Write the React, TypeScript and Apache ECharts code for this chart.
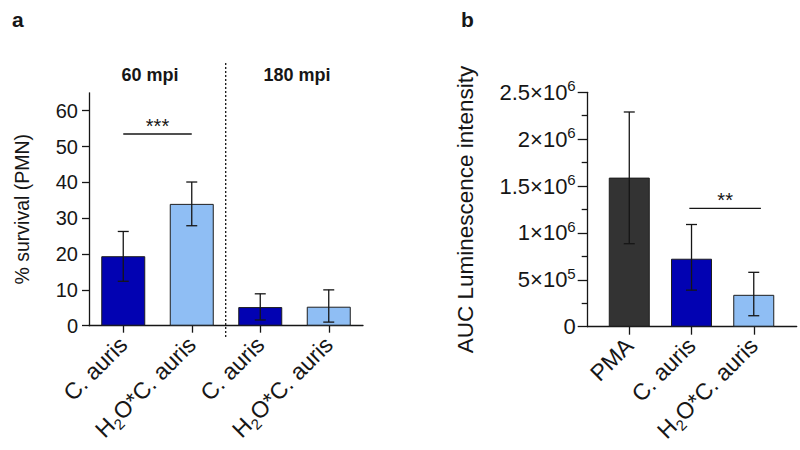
import React, { useEffect, useRef } from 'react';
import * as echarts from 'echarts';

// ---------- Panel a data ----------
const catsA = ['C. auris', 'H2O*C. auris', 'C. auris', 'H2O*C. auris'];
const survivalMean = [19.4, 34.0, 5.2, 5.3];
const survivalLow = [12.4, 27.9, 1.6, 1.0];
const survivalHigh = [26.3, 40.1, 8.9, 10.0];
const colorsA = ['#0202b2', '#8fbef4', '#0202b2', '#8fbef4'];
const yTicksA = [0, 10, 20, 30, 40, 50, 60];
const sigA = { from: 0, to: 1, y: 53.5, label: '***' };
const groupLabelsA = ['60 mpi', '180 mpi'];

// ---------- Panel b data ----------
const catsB = ['PMA', 'C. auris', 'H2O*C. auris'];
const aucMean = [1.59e6, 0.725e6, 0.34e6];
const aucLow = [0.885e6, 0.39e6, 0.117e6];
const aucHigh = [2.29e6, 1.09e6, 0.58e6];
const colorsB = ['#333333', '#0202b2', '#8fbef4'];
const yTicksB = [0, 5e5, 1e6, 1.5e6, 2e6, 2.5e6];
const yTickLabelsB = ['0', '5×10|5', '1×10|6', '1.5×10|6', '2×10|6', '2.5×10|6'];
const sigB = { from: 0.965, to: 2.115, y: 1.262e6, label: '**' };

const FONT = '"Liberation Sans", Arial, Helvetica, sans-serif';
const INK = '#161616';

function catLabel(v: string): string {
  if (v.startsWith('H2O')) return '{n|H}{sub|2}{n|O' + v.slice(3) + '}';
  return '{n|' + v + '}';
}

const xRich = {
  n: { fontSize: 23, fontFamily: FONT, color: INK, lineHeight: 30 },
  sub: { fontSize: 15, fontFamily: FONT, color: INK, lineHeight: 15, verticalAlign: 'bottom' },
};
const yRich = {
  n: { fontSize: 22, fontFamily: FONT, color: INK, lineHeight: 28 },
  sup: { fontSize: 15, fontFamily: FONT, color: INK, lineHeight: 15, verticalAlign: 'top' },
};

function renderErr(params: any, api: any) {
  const x = api.value(0);
  const lo = api.value(1);
  const hi = api.value(2);
  const pl = api.coord([x, lo]);
  const ph = api.coord([x, hi]);
  const w = 5.5;
  const style = { stroke: INK, lineWidth: 1.3 };
  return {
    type: 'group',
    children: [
      { type: 'line', shape: { x1: ph[0], y1: ph[1], x2: pl[0], y2: pl[1] }, style },
      { type: 'line', shape: { x1: ph[0] - w, y1: ph[1], x2: ph[0] + w, y2: ph[1] }, style },
      { type: 'line', shape: { x1: pl[0] - w, y1: pl[1], x2: pl[0] + w, y2: pl[1] }, style },
    ],
  };
}

function makeSig(label: string) {
  return (params: any, api: any) => {
    const a = api.coord([api.value(0), api.value(2)]);
    const b = api.coord([api.value(1), api.value(2)]);
    return {
      type: 'group',
      children: [
        { type: 'line', shape: { x1: a[0], y1: a[1], x2: b[0], y2: b[1] }, style: { stroke: INK, lineWidth: 1.3 } },
        {
          type: 'text',
          x: (a[0] + b[0]) / 2,
          y: a[1] - 8,
          style: { text: label, fontSize: 20, fontFamily: FONT, fill: INK, align: 'center', verticalAlign: 'middle' },
        },
      ],
    };
  };
}

export default function App() {
  const ref = useRef<HTMLDivElement>(null);
  useEffect(() => {
    if (!ref.current) return;
    const chart = echarts.init(ref.current, null, { renderer: 'svg' });
    const axisLine = { show: true, onZero: false, lineStyle: { color: INK, width: 1.3 } };
    const option: any = {
      animation: false,
      backgroundColor: '#ffffff',
      textStyle: { fontFamily: FONT },
      grid: [
        { left: 89, top: 92.8, width: 274, height: 232.9 },
        { left: 587.7, top: 92.3, width: 209, height: 234.4 },
      ],
      xAxis: [
        {
          type: 'category',
          gridIndex: 0,
          data: catsA,
          axisLine,
          axisTick: { show: true, alignWithLabel: true, length: 7, lineStyle: { color: INK, width: 1.3 } },
          axisLabel: { rotate: 45, margin: 15, formatter: catLabel, rich: xRich, interval: 0 },
          splitLine: { show: false },
        },
        {
          type: 'value',
          gridIndex: 1,
          min: -0.668,
          max: 2.69,
          axisLine,
          axisTick: { show: true, customValues: [0, 1, 2], length: 8, lineStyle: { color: INK, width: 1.3 } },
          axisLabel: {
            customValues: [0, 1, 2],
            rotate: 45,
            margin: 15,
            formatter: (v: number) => catLabel(catsB[Math.round(v)] || ''),
            rich: xRich,
          },
          splitLine: { show: false },
        },
      ],
      yAxis: [
        {
          type: 'value',
          gridIndex: 0,
          min: 0,
          max: 65,
          axisLine,
          axisTick: { show: true, customValues: yTicksA, length: 7, lineStyle: { color: INK, width: 1.3 } },
          axisLabel: { customValues: yTicksA, fontSize: 20, color: INK, margin: 11, fontFamily: FONT },
          splitLine: { show: false },
          name: '% survival (PMN)',
          nameLocation: 'middle',
          nameGap: 57,
          nameTextStyle: { fontSize: 19.5, color: INK, fontFamily: FONT },
        },
        {
          type: 'value',
          gridIndex: 1,
          min: 0,
          max: 2.5e6,
          interval: 5e5,
          axisLine,
          axisTick: { show: true, length: 10, lineStyle: { color: INK, width: 1.3 } },
          minorTick: { show: true, splitNumber: 2, length: 6, lineStyle: { color: INK, width: 1.3 } },
          axisLabel: {
            margin: 12,
            formatter: (v: number) => {
              const i = yTicksB.findIndex((t) => Math.abs(t - v) < 1);
              const s = i >= 0 ? yTickLabelsB[i] : '';
              if (s.indexOf('|') < 0) return '{n|' + s + '}';
              const [base, exp] = s.split('|');
              return '{n|' + base + '}{sup|' + exp + '}';
            },
            rich: yRich,
          },
          splitLine: { show: false },
          name: 'AUC Luminescence intensity',
          nameLocation: 'middle',
          nameGap: 111,
          nameTextStyle: { fontSize: 22.5, color: INK, fontFamily: FONT },
        },
      ],
      series: [
        {
          type: 'bar',
          xAxisIndex: 0,
          yAxisIndex: 0,
          barWidth: 44,
          data: survivalMean.map((v, i) => ({ value: v, itemStyle: { color: colorsA[i] } })),
          itemStyle: { borderColor: '#1e1e1e', borderWidth: 1 },
        },
        {
          type: 'custom',
          xAxisIndex: 0,
          yAxisIndex: 0,
          z: 5,
          renderItem: renderErr,
          encode: { x: 0, y: [1, 2] },
          data: survivalMean.map((_, i) => [i, survivalLow[i], survivalHigh[i]]),
        },
        {
          type: 'custom',
          xAxisIndex: 0,
          yAxisIndex: 0,
          z: 5,
          renderItem: makeSig(sigA.label),
          encode: { x: [0, 1], y: 2 },
          data: [[sigA.from, sigA.to, sigA.y]],
        },
        {
          type: 'bar',
          xAxisIndex: 1,
          yAxisIndex: 1,
          barWidth: 41,
          data: aucMean.map((v, i) => ({ value: [i, v], itemStyle: { color: colorsB[i] } })),
          itemStyle: { borderColor: '#1e1e1e', borderWidth: 1 },
        },
        {
          type: 'custom',
          xAxisIndex: 1,
          yAxisIndex: 1,
          z: 5,
          renderItem: renderErr,
          encode: { x: 0, y: [1, 2] },
          data: aucMean.map((_, i) => [i, aucLow[i], aucHigh[i]]),
        },
        {
          type: 'custom',
          xAxisIndex: 1,
          yAxisIndex: 1,
          z: 5,
          renderItem: makeSig(sigB.label),
          encode: { x: [0, 1], y: 2 },
          data: [[sigB.from, sigB.to, sigB.y]],
        },
      ],
      graphic: [
        { type: 'text', left: 12, top: 9, style: { text: 'a', fontSize: 21, fontWeight: 'bold', fontFamily: FONT, fill: INK } },
        { type: 'text', left: 461, top: 9, style: { text: 'b', fontSize: 21, fontWeight: 'bold', fontFamily: FONT, fill: INK } },
        {
          type: 'text',
          x: 150,
          y: 74.5,
          style: { text: groupLabelsA[0], fontSize: 18, fontWeight: 'bold', fontFamily: FONT, fill: INK, align: 'center', verticalAlign: 'middle' },
        },
        {
          type: 'text',
          x: 297,
          y: 74.5,
          style: { text: groupLabelsA[1], fontSize: 18, fontWeight: 'bold', fontFamily: FONT, fill: INK, align: 'center', verticalAlign: 'middle' },
        },
        {
          type: 'line',
          shape: { x1: 225.7, y1: 63, x2: 225.7, y2: 337 },
          style: { stroke: INK, lineWidth: 1.3, lineDash: [2, 2] },
        },
      ],
    };
    chart.setOption(option);
    return () => chart.dispose();
  }, []);
  return <div ref={ref} style={{ position: 'absolute', left: 0, top: 0, width: 800, height: 450 }} />;
}
